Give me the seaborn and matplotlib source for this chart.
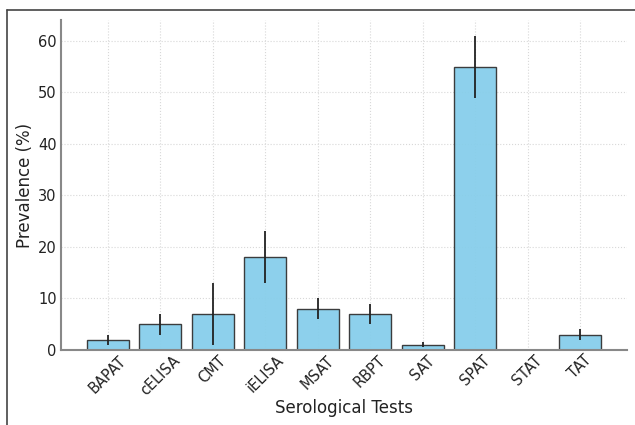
import matplotlib
matplotlib.use("Agg")
import matplotlib.pyplot as plt
import seaborn as sns
import pandas as pd
from matplotlib.lines import Line2D

tests = ["BAPAT", "cELISA", "CMT", "iELISA", "MSAT", "RBPT", "SAT", "SPAT", "STAT", "TAT"]
prevalence = [2, 5, 7, 18, 8, 7, 1, 55, 0, 3]
errors = [1, 2, 6, 5, 2, 2, 0.5, 6, 0, 1]

df = pd.DataFrame({"test": tests, "prev": prevalence, "err": errors})

sns.set_style("white")
plt.rcParams['font.family'] = ['DejaVu Sans']

fig = plt.figure(figsize=(6.35, 4.25), dpi=100)
ax = fig.add_axes([0.096, 0.1765, 0.891, 0.7765])

sns.barplot(data=df, x="test", y="prev", ax=ax, color="#87CEEB", saturation=1,
            edgecolor="#333333", linewidth=1.0, width=0.8, errorbar=None, alpha=0.95)
ax.errorbar(range(len(tests)), prevalence, yerr=errors, fmt="none",
            ecolor="#222222", elinewidth=1.3, capsize=0)

ax.set_xlim(-0.89, 9.89)
ax.set_ylim(0, 64.05)
ax.set_yticks([0, 10, 20, 30, 40, 50, 60])
ax.grid(True, color="#d8d8d8", linestyle=":", linewidth=0.8)
ax.set_axisbelow(True)

for s in ["top", "right"]:
    ax.spines[s].set_visible(False)
for s in ["left", "bottom"]:
    ax.spines[s].set_color("#888888")
    ax.spines[s].set_linewidth(1.5)

ax.tick_params(axis="both", length=0, labelsize=10.5, colors="#222222")
ax.tick_params(axis="y", pad=3)
ax.tick_params(axis="x", pad=2)
plt.setp(ax.get_xticklabels(), rotation=45, ha="center")
ax.set_xlabel("Serological Tests", fontsize=12, color="#222222", labelpad=1)
ax.set_ylabel("Prevalence (%)", fontsize=12, color="#222222", labelpad=3)

# screenshot frame
fig.add_artist(Line2D([7/635, 1], [1-10/425, 1-10/425], transform=fig.transFigure, color="#444444", lw=1.2))
fig.add_artist(Line2D([7/635, 7/635], [0, 1-10/425], transform=fig.transFigure, color="#444444", lw=1.2))

fig.savefig("out.png", dpi=100)
